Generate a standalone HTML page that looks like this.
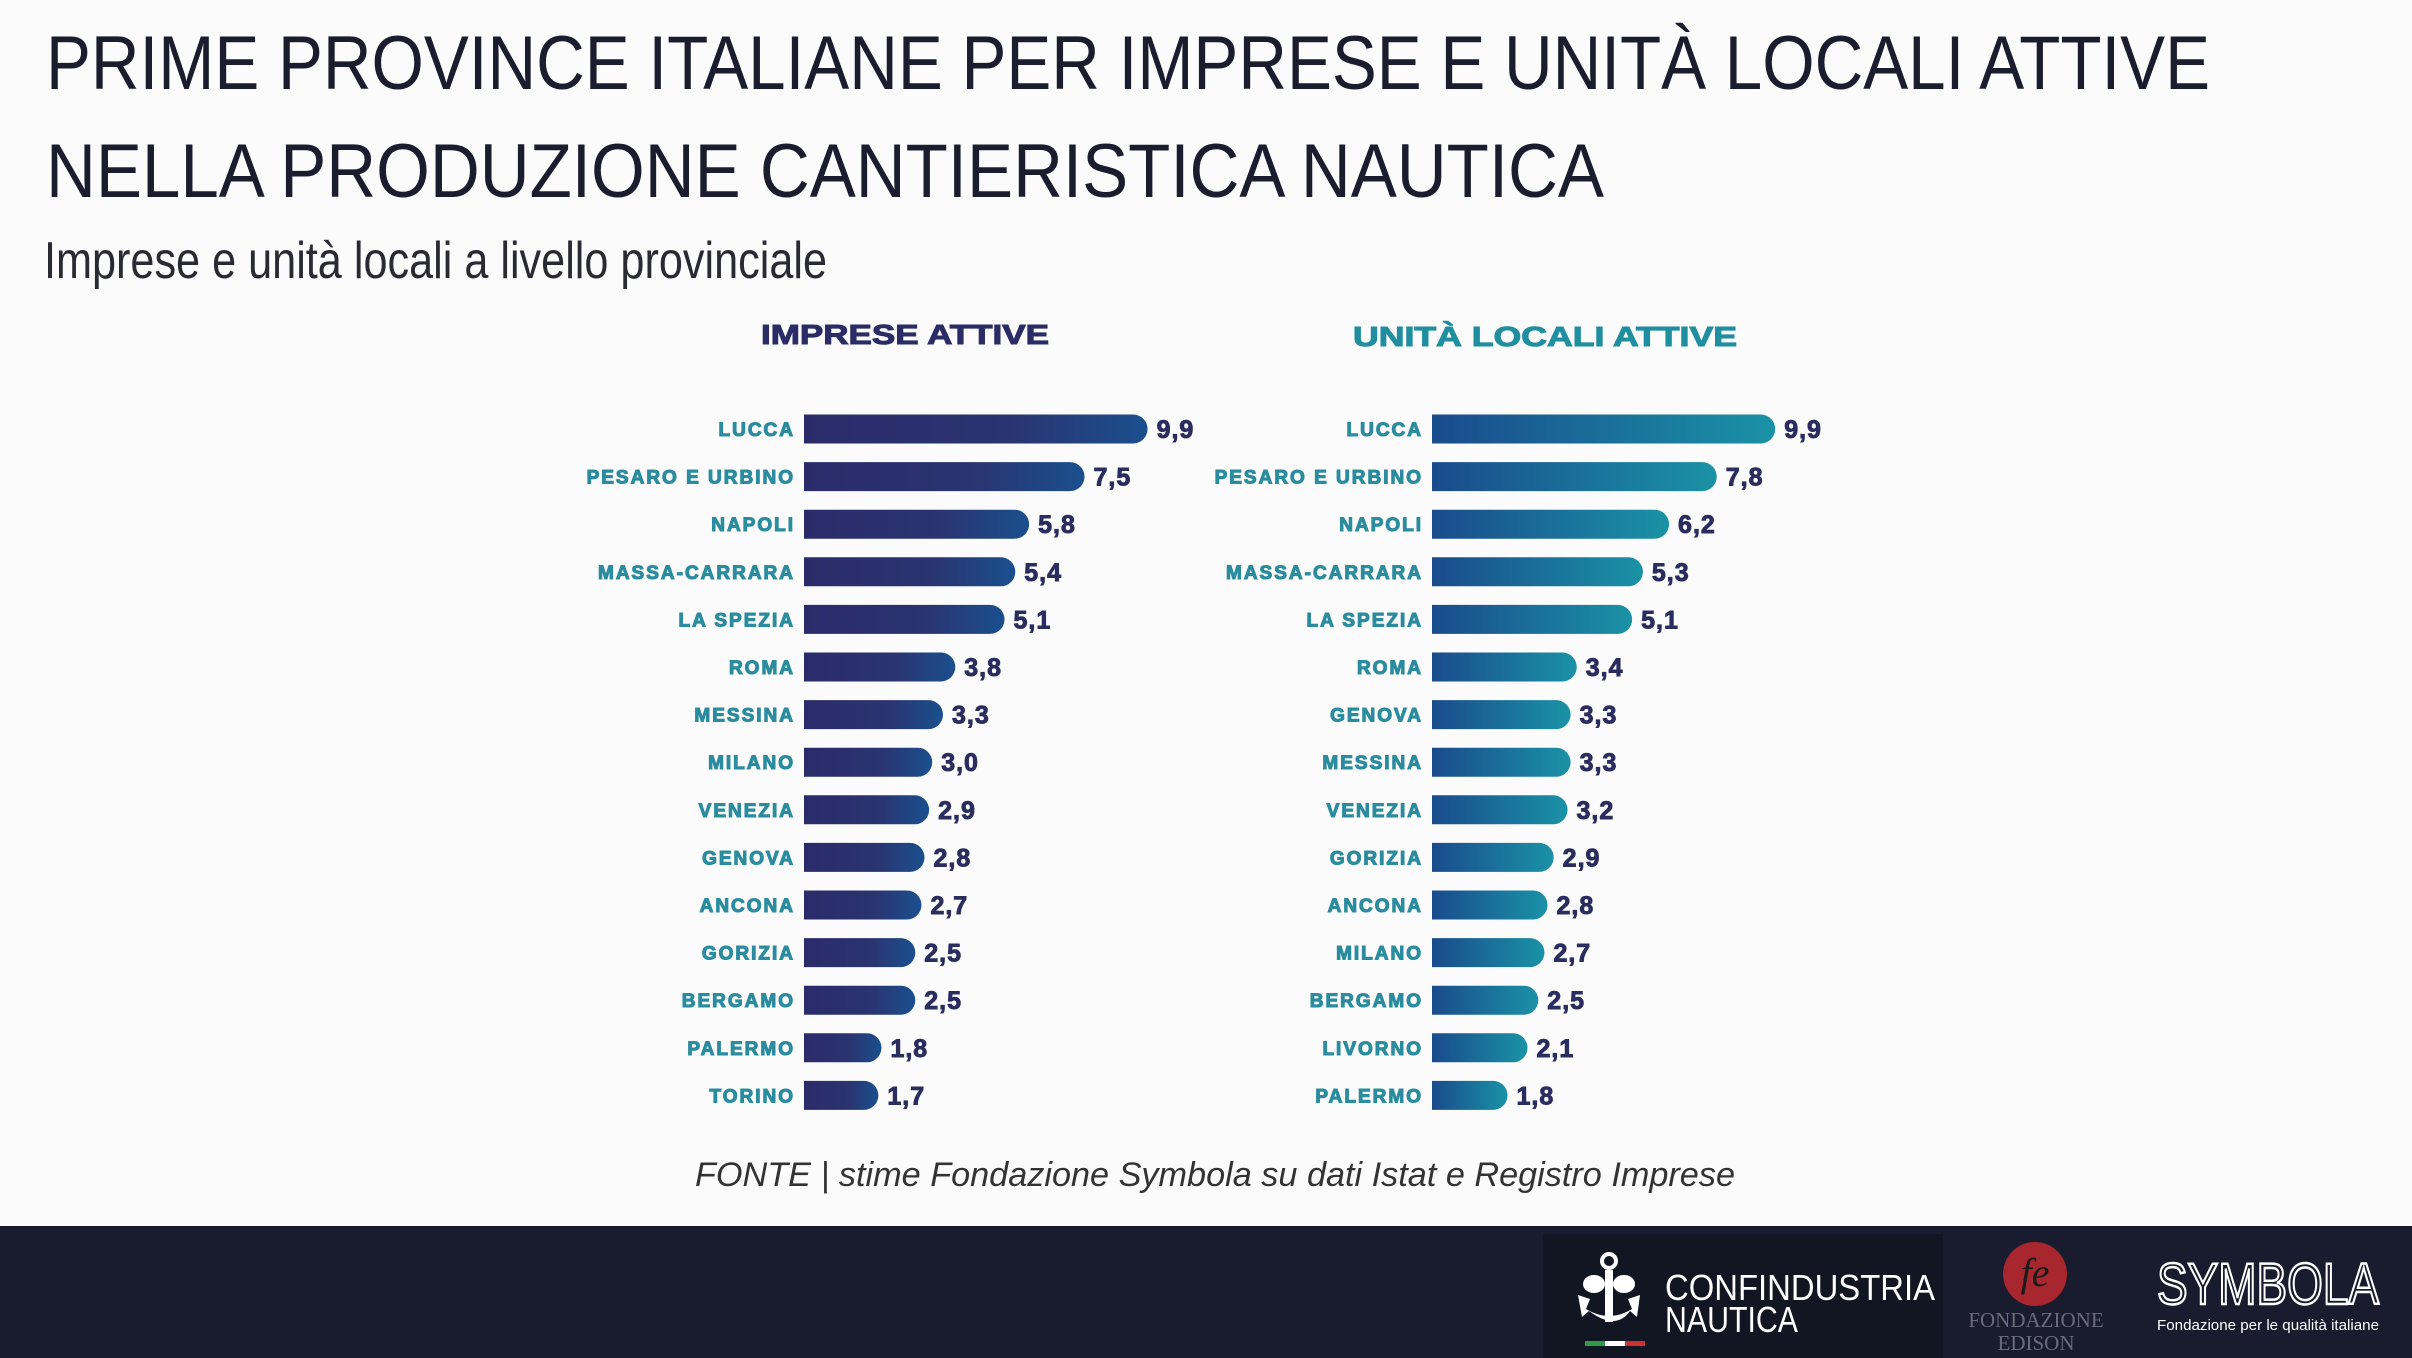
<!DOCTYPE html>
<html><head><meta charset="utf-8"><style>
html,body{margin:0;padding:0;background:#fbfbfb;}
svg{display:block;}
</style></head><body>
<svg width="2412" height="1358" viewBox="0 0 2412 1358" xmlns="http://www.w3.org/2000/svg">
<defs>
<linearGradient id="gl" x1="0" x2="1" y1="0" y2="0"><stop offset="0" stop-color="#2b2b6a"/><stop offset="0.6" stop-color="#2a3470"/><stop offset="1" stop-color="#1b4f8e"/></linearGradient>
<linearGradient id="gr" x1="0" x2="1" y1="0" y2="0"><stop offset="0" stop-color="#1a4b8c"/><stop offset="1" stop-color="#1a92a6"/></linearGradient>
</defs>
<rect width="2412" height="1358" fill="#fbfbfb"/>
<g font-family="Liberation Sans, sans-serif" fill="#1b1d2e">
<text x="46" y="89" font-size="76" textLength="2164" lengthAdjust="spacingAndGlyphs">PRIME PROVINCE ITALIANE PER IMPRESE E UNITÀ LOCALI ATTIVE</text>
<text x="46" y="197" font-size="76" textLength="1558" lengthAdjust="spacingAndGlyphs">NELLA PRODUZIONE CANTIERISTICA NAUTICA</text>
<text x="44" y="278" font-size="52" fill="#2a2a33" textLength="783" lengthAdjust="spacingAndGlyphs">Imprese e unità locali a livello provinciale</text>
</g>
<g font-family="Liberation Sans, sans-serif" font-weight="bold" font-size="28" text-anchor="middle">
<text x="905" y="344" fill="#2b2c66" stroke="#2b2c66" stroke-width="1" textLength="288" lengthAdjust="spacingAndGlyphs">IMPRESE ATTIVE</text>
<text x="1545" y="346" fill="#1f8fa0" stroke="#1f8fa0" stroke-width="1" textLength="384" lengthAdjust="spacingAndGlyphs">UNITÀ LOCALI ATTIVE</text>
</g>
<g id="bars" font-family="Liberation Sans, sans-serif" font-weight="bold"></g>
<text x="1215" y="1186" font-family="Liberation Sans, sans-serif" font-style="italic" font-size="34" fill="#333" text-anchor="middle" textLength="1040" lengthAdjust="spacingAndGlyphs">FONTE |  stime Fondazione Symbola su dati Istat e Registro Imprese</text>
<rect x="0" y="1226" width="2412" height="132" fill="#181c2e"/>
<rect x="1543" y="1234" width="400" height="124" fill="#121522"/>
<g fill="#fff">
<circle cx="1609" cy="1261" r="7" fill="none" stroke="#fff" stroke-width="4"/>
<ellipse cx="1594" cy="1284" rx="11" ry="9"/><ellipse cx="1624" cy="1284" rx="11" ry="9"/>
<rect x="1605" y="1270" width="8" height="52"/>
<path d="M1578 1295 l12 4 l-4 10 q23 14 46 0 l-4 -10 l12 -4 l-3 22 l-7 -6 q-14 20 -41 0 l-7 6z"/>
</g>
<rect x="1585" y="1341" width="20" height="5" fill="#2e9b46"/><rect x="1605" y="1341" width="20" height="5" fill="#fff"/><rect x="1625" y="1341" width="20" height="5" fill="#d03030"/>
<g font-family="Liberation Sans, sans-serif" fill="#fff" font-size="36">
<text x="1665" y="1300" textLength="270" lengthAdjust="spacingAndGlyphs">CONFINDUSTRIA</text>
<text x="1665" y="1332" textLength="133" lengthAdjust="spacingAndGlyphs">NAUTICA</text>
</g>
<circle cx="2035" cy="1274" r="32" fill="#a8262e"/>
<text x="2035" y="1286" font-family="Liberation Serif, serif" font-style="italic" font-size="40" fill="#1a1a1a" text-anchor="middle">fe</text>
<g font-family="Liberation Serif, serif" fill="#6a6b78" font-size="21" text-anchor="middle">
<text x="2036" y="1327">FONDAZIONE</text>
<text x="2036" y="1350">EDISON</text>
</g>
<text x="2157" y="1304" font-family="Liberation Sans, sans-serif" font-size="58" fill="none" stroke="#fff" stroke-width="2.5" textLength="222" lengthAdjust="spacingAndGlyphs">SYMBOLA</text>
<text x="2157" y="1330" font-family="Liberation Sans, sans-serif" font-size="15" fill="#fff" textLength="222" lengthAdjust="spacingAndGlyphs">Fondazione per le qualità italiane</text>
</svg>
<script>
var L=[["LUCCA",9.9,746],["PESARO E URBINO",7.5,705],["NAPOLI",5.8,669],["MASSA-CARRARA",5.4,660],["LA SPEZIA",5.1,653],["ROMA",3.8,621],["MESSINA",3.3,613],["MILANO",3.0,606],["VENEZIA",2.9,604],["GENOVA",2.8,601],["ANCONA",2.7,599],["GORIZIA",2.5,595],["BERGAMO",2.5,595],["PALERMO",1.8,573],["TORINO",1.7,571]];
var R=[["LUCCA",9.9,1154],["PESARO E URBINO",7.8,1116],["NAPOLI",6.2,1085],["MASSA-CARRARA",5.3,1068],["LA SPEZIA",5.1,1061],["ROMA",3.4,1025],["GENOVA",3.3,1021],["MESSINA",3.3,1021],["VENEZIA",3.2,1019],["GORIZIA",2.9,1010],["ANCONA",2.8,1006],["MILANO",2.7,1004],["BERGAMO",2.5,1000],["LIVORNO",2.1,993],["PALERMO",1.8,980]];
var g=document.getElementById('bars'),s='';
function draw(d,x0,grad,lx){
 d.forEach(function(r,i){
  var cy=429+i*47.6,h=29,y=cy-h/2,xe=r[2]*1.5383,rr=h/2;
  s+='<path d="M'+x0+' '+y+' H'+(xe-rr)+' A'+rr+' '+rr+' 0 0 1 '+(xe-rr)+' '+(y+h)+' H'+x0+' Z" fill="url(#'+grad+')"/>';
  s+='<text x="'+lx+'" y="'+(cy+7)+'" font-size="19" letter-spacing="2" text-anchor="end" fill="#2a8c9e" stroke="#2a8c9e" stroke-width="1.1">'+r[0]+'</text>';
  s+='<text x="'+(xe+9)+'" y="'+(cy+9)+'" font-size="25" letter-spacing="1" fill="#2b2d5f" stroke="#2b2d5f" stroke-width="0.9">'+r[1].toFixed(1).replace('.',',')+'</text>';
 });
}
draw(L,804,'gl',795);
draw(R,1432,'gr',1423);
g.innerHTML=s;
</script>
</body></html>
